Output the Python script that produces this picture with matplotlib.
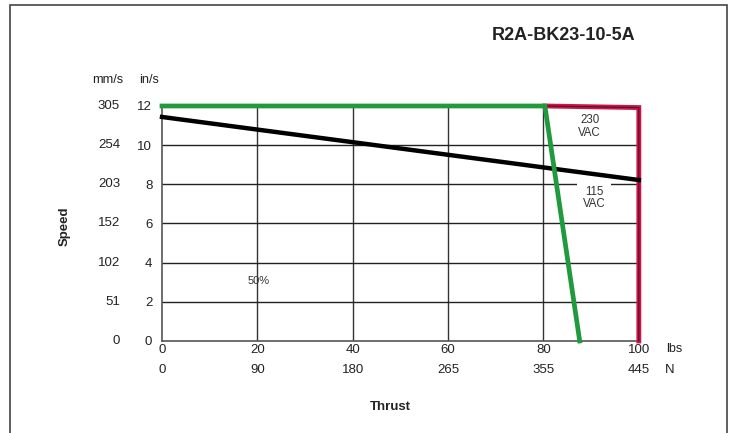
import matplotlib
matplotlib.use("Agg")
import matplotlib.pyplot as plt
from matplotlib.patches import Rectangle
from matplotlib.transforms import blended_transform_factory

plt.rcParams['font.family'] = ['Liberation Sans', 'DejaVu Sans']

# data
thrust_lbs = [0, 20, 40, 60, 80, 100]
thrust_n = ['0', '90', '180', '265', '355', '445']
speed_ins = [0, 2, 4, 6, 8, 10, 12]
speed_mms = ['0', '51', '102', '152', '203', '254', '305']

black_x = [0, 100]
black_y = [11.44, 8.22]
green_x = [0, 80.3, 87.6]
green_y = [12.0, 12.0, 0.0]
red_x = [80.3, 100, 100]
red_y = [12.0, 11.92, 0.0]

title = 'R2A-BK23-10-5A'

fig = plt.figure(figsize=(7.37, 4.33), dpi=100)
ax = fig.add_axes([0.2198, 0.2125, 0.647, 0.5427])

# outer frame
fig.patches.append(Rectangle((10 / 737, -0.05), 717 / 737, 1.038, transform=fig.transFigure,
                             fill=False, edgecolor='#444444', lw=1.2))

ax.set_xlim(0, 100)
ax.set_ylim(0, 12)
for x in thrust_lbs[1:-1]:
    ax.axvline(x, color='#333333', lw=1, zorder=1)
for y in speed_ins[1:]:
    ax.axhline(y, color='#222222', lw=1, zorder=1)

ax.plot(red_x, red_y, color='#c8174a', lw=3.5, solid_joinstyle='miter', zorder=3, clip_on=False)
ax.plot(red_x, red_y, color='#5a0a20', lw=0.8, zorder=3, clip_on=False)
ax.plot(black_x, black_y, color='black', lw=3.2, zorder=4, clip_on=False)
ax.plot(green_x, green_y, color='#1f9a3c', lw=3.4, solid_joinstyle='miter', zorder=5, clip_on=False)

for s in ['top', 'right']:
    ax.spines[s].set_visible(False)
for s in ['left', 'bottom']:
    ax.spines[s].set_color('#555555')
    ax.spines[s].set_linewidth(1.2)

ax.set_xticks(thrust_lbs)
ax.set_xticklabels([str(v) for v in thrust_lbs])
ax.set_yticks(speed_ins)
ax.set_yticklabels([str(v) for v in speed_ins])
ax.tick_params(length=0, labelsize=9.5, colors='#222222')
ax.tick_params(axis='x', pad=2)
ax.tick_params(axis='y', pad=7)

# second label rows
tb = blended_transform_factory(ax.transData, ax.transAxes)
for x, lab in zip(thrust_lbs, thrust_n):
    ax.text(x, -0.123, lab, transform=tb, ha='center', va='center', fontsize=9.5, color='#222222')
ax.text(107.5, -0.034, 'lbs', transform=tb, ha='center', va='center', fontsize=9, color='#222222')
ax.text(106.5, -0.123, 'N', transform=tb, ha='center', va='center', fontsize=9.5, color='#222222')

tl = blended_transform_factory(ax.transAxes, ax.transData)
for y, lab in zip(speed_ins, speed_mms):
    ax.text(-0.088, y, lab, transform=tl, ha='right', va='center', fontsize=9.5, color='#222222')
ax.text(-0.114, 1.11, 'mm/s', transform=ax.transAxes, ha='center', va='center', fontsize=9.2, color='#222222')
ax.text(-0.027, 1.11, 'in/s', transform=ax.transAxes, ha='center', va='center', fontsize=9.2, color='#222222')

ax.text(89.7, 10.95, '230\nVAC', ha='center', va='center', fontsize=8.3, color='#333333',
        linespacing=1.1, zorder=6)
ax.text(90.6, 7.3, '115\nVAC', ha='center', va='center', fontsize=8.3, color='#333333',
        linespacing=1.1, zorder=6, bbox=dict(facecolor='white', edgecolor='none', pad=4))
ax.text(20.3, 3.06, '50%', ha='center', va='center', fontsize=8, color='#333333')

fig.text(390 / 737, 1 - 407 / 433, 'Thrust', ha='center', va='center', fontsize=9.5,
         fontweight='bold', color='#222222')
fig.text(65 / 737, 1 - 226 / 433, 'Speed', ha='center', va='center', rotation=90, fontsize=9.5,
         fontweight='bold', color='#222222')
fig.text(635 / 737, 1 - 35 / 433, title, ha='right', va='center', fontsize=13,
         fontweight='bold', color='#222222')

fig.savefig('out.png', dpi=100)
